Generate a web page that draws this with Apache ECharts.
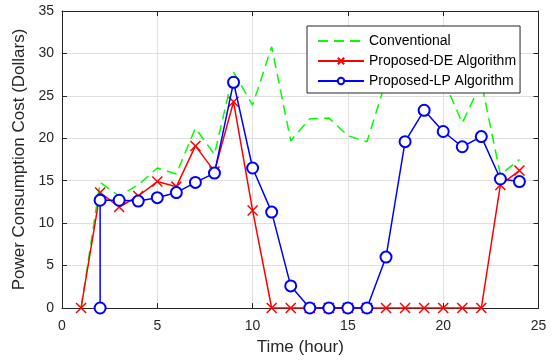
<!DOCTYPE html>
<html>
<head>
<meta charset="utf-8">
<script src="https://cdn.jsdelivr.net/npm/echarts@6/dist/echarts.min.js"></script>
<style>
  html, body { margin: 0; padding: 0; background: #fff; }
  #chart { width: 556px; height: 363px; }
</style>
</head>
<body>
<div id="chart"></div>
<script>
// Hourly power consumption cost under three scheduling approaches
const hours = [1, 2, 3, 4, 5, 6, 7, 8, 9, 10, 11, 12, 13, 14, 15, 16, 17, 18, 19, 20, 21, 22, 23, 24];
const conventional = [0, 14.8, 13.2, 14.5, 16.5, 15.8, 21.2, 18.1, 27.8, 23.9, 30.8, 19.7, 22.3, 22.4, 20.3, 19.6, 26.8, 29.5, 31.0, 27.0, 21.8, 26.6, 15.7, 17.5];
const proposedDE = [0, 13.6, 11.9, 13.2, 14.9, 14.3, 19.1, 16.1, 24.3, 11.5, 0, 0, 0, 0, 0, 0, 0, 0, 0, 0, 0, 0, 14.5, 16.2];
// The LP schedule starts at hour 2 with a vertical jump from zero
const hoursLP = [2, 2, 3, 4, 5, 6, 7, 8, 9, 10, 11, 12, 13, 14, 15, 16, 17, 18, 19, 20, 21, 22, 23, 24];
const proposedLP = [0, 12.7, 12.7, 12.6, 13.0, 13.6, 14.8, 15.9, 26.6, 16.5, 11.3, 2.6, 0, 0, 0, 0, 6.0, 19.6, 23.3, 20.8, 19.0, 20.2, 15.2, 14.9];
const xTicks = [0, 5, 10, 15, 20, 25];
const yTicks = [0, 5, 10, 15, 20, 25, 30, 35];

const pairs = (xs, ys) => xs.map((x, i) => [x, ys[i]]);
const FONT = 'Liberation Sans, Arial, Helvetica, sans-serif';
const AXIS = '#262626';
const crossPath = 'path://M0,0L10,10M10,0L0,10';

const baseAxis = {
  type: 'value',
  axisLine: { show: true, onZero: false, lineStyle: { color: AXIS, width: 1 } },
  axisTick: { show: true, inside: true, length: 5, lineStyle: { color: AXIS } },
  splitLine: { show: false },
  axisLabel: { show: false }
};

const chart = echarts.init(document.getElementById('chart'), null, { renderer: 'canvas' });
chart.setOption({
  animation: false,
  backgroundColor: '#ffffff',
  textStyle: { fontFamily: FONT },
  grid: { left: 62, right: 17.5, top: 11, bottom: 55 },
  legend: {
    orient: 'vertical',
    left: 307,
    top: 26,
    padding: [8, 4, 5, 10],
    itemGap: 6,
    itemWidth: 46,
    itemHeight: 8,
    backgroundColor: '#ffffff',
    borderColor: AXIS,
    borderWidth: 1,
    borderRadius: 0,
    textStyle: { fontFamily: FONT, fontSize: 14, color: '#000' },
    data: [
      { name: 'Conventional', itemStyle: { opacity: 0 } },
      { name: 'Proposed-DE Algorithm' },
      { name: 'Proposed-LP Algorithm' }
    ]
  },
  xAxis: [
    Object.assign({}, baseAxis, {
      position: 'bottom',
      min: xTicks[0], max: xTicks[xTicks.length - 1], interval: 5,
      name: 'Time (hour)',
      nameLocation: 'middle',
      nameGap: 31,
      nameTextStyle: { fontFamily: FONT, fontSize: 17, color: AXIS },
      axisLabel: { show: true, fontFamily: FONT, fontSize: 14, color: AXIS, margin: 11 },
      splitLine: { show: true, lineStyle: { color: '#dfdfdf', width: 1 } }
    }),
    Object.assign({}, baseAxis, {
      position: 'top',
      min: xTicks[0], max: xTicks[xTicks.length - 1], interval: 5
    })
  ],
  yAxis: [
    Object.assign({}, baseAxis, {
      position: 'left',
      min: yTicks[0], max: yTicks[yTicks.length - 1], interval: 5,
      name: 'Power Consumption Cost (Dollars)',
      nameLocation: 'middle',
      nameGap: 29,
      nameTextStyle: { fontFamily: FONT, fontSize: 17, color: AXIS },
      axisLabel: { show: true, fontFamily: FONT, fontSize: 14, color: AXIS, margin: 8 },
      splitLine: { show: true, lineStyle: { color: '#dfdfdf', width: 1 } }
    }),
    Object.assign({}, baseAxis, {
      position: 'right',
      min: yTicks[0], max: yTicks[yTicks.length - 1], interval: 5
    })
  ],
  series: [
    {
      name: 'Conventional',
      type: 'line',
      data: pairs(hours, conventional),
      symbol: 'none',
      lineStyle: { color: '#00ff00', width: 1.5, type: [10, 6] },
      itemStyle: { color: '#00ff00' },
      z: 2
    },
    {
      name: 'Proposed-DE Algorithm',
      type: 'line',
      data: pairs(hours, proposedDE),
      symbol: crossPath,
      symbolSize: 10,
      lineStyle: { color: '#ff0000', width: 1.5 },
      itemStyle: { color: '#ff0000', borderColor: '#ff0000', borderWidth: 1.5 },
      z: 3
    },
    {
      name: 'Proposed-LP Algorithm',
      type: 'line',
      data: pairs(hoursLP, proposedLP),
      symbol: 'emptyCircle',
      symbolSize: 11,
      lineStyle: { color: '#0000ff', width: 1.5 },
      itemStyle: { color: '#0000ff', borderColor: '#0000ff', borderWidth: 1.5 },
      z: 4
    }
  ]
});
</script>
</body>
</html>
